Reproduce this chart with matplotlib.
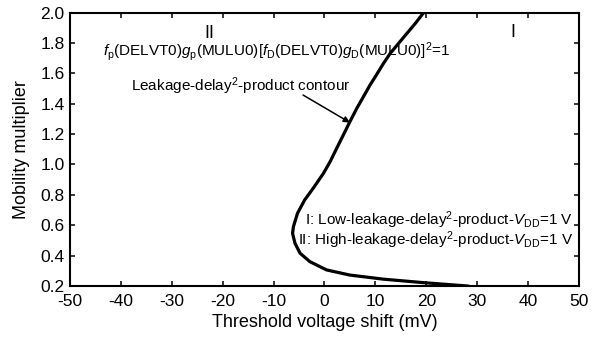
import numpy as np
import matplotlib.pyplot as plt

plt.rcParams['font.family'] = ['Liberation Sans', 'DejaVu Sans']
plt.rcParams['mathtext.fontset'] = 'custom'
plt.rcParams['mathtext.rm'] = 'Liberation Sans'
plt.rcParams['mathtext.it'] = 'Liberation Sans:italic'
plt.rcParams['axes.unicode_minus'] = False

# leakage-delay^2-product contour (top to bottom)
vt_shift = [19.5, 17.85, 16.2, 14.55, 12.9, 11.6, 10.3, 8.95, 7.65, 6.35,
            5.0, 3.7, 2.4, 1.1, -0.2, -2.0, -3.9, -5.3, -6.1, -6.27,
            -5.8, -4.8, -2.9, 0.4, 5.0, 11.6, 19.5, 28.1]
mobility = [2.0, 1.929, 1.863, 1.797, 1.731, 1.666, 1.595, 1.523, 1.446, 1.37,
            1.282, 1.194, 1.107, 1.018, 0.942, 0.854, 0.766, 0.679, 0.591,
            0.547, 0.482, 0.416, 0.361, 0.306, 0.272, 0.245, 0.222, 0.2]

xticks = np.arange(-50, 51, 10)
yticks = np.arange(0.2, 2.01, 0.2)

fig = plt.figure(figsize=(5.95, 3.38), dpi=100)
ax = fig.add_axes([0.1176, 0.1538, 0.8555, 0.809])

ax.plot(vt_shift, mobility, color='black', lw=2.3, solid_joinstyle='round')

ax.set_xlim(-50, 50)
ax.set_ylim(0.2, 2.0)
ax.set_xticks(xticks)
ax.set_yticks(yticks)
ax.set_yticklabels([f'{v:.1f}' for v in yticks])
ax.tick_params(which='both', direction='in', top=True, right=True,
               labelsize=12.5, width=1.1, length=3.8)
ax.tick_params(axis='x', pad=6)
ax.tick_params(axis='y', pad=4)
for s in ax.spines.values():
    s.set_linewidth(1.5)

ax.set_xlabel('Threshold voltage shift (mV)', fontsize=13, labelpad=3)
ax.set_ylabel('Mobility multiplier', fontsize=13, labelpad=7)

ax.text(-22.6, 1.835, 'II', fontsize=13, ha='center', va='baseline')
ax.text(37.0, 1.84, 'I', fontsize=13, ha='center', va='baseline')
ax.text(-43.6, 1.714,
        r'$f_{\mathrm{p}}$(DELVT0)$g_{\mathrm{p}}$(MULU0)[$f_{\mathrm{D}}$(DELVT0)$g_{\mathrm{D}}$(MULU0)]$^{2}$=1',
        fontsize=11, ha='left', va='baseline')
ax.text(-38.0, 1.484, r'Leakage-delay$^{2}$-product contour',
        fontsize=11, ha='left', va='baseline')
ax.annotate('', xy=(5.0, 1.276), xytext=(-4.2, 1.457),
            arrowprops=dict(arrowstyle='-|>', color='black', lw=1.1,
                            mutation_scale=9, shrinkA=0, shrinkB=0))
ax.text(48.8, 0.6, r'I: Low-leakage-delay$^{2}$-product-$V_{\mathrm{DD}}$=1 V',
        fontsize=11, ha='right', va='baseline')
ax.text(48.8, 0.47, r'II: High-leakage-delay$^{2}$-product-$V_{\mathrm{DD}}$=1 V',
        fontsize=11, ha='right', va='baseline')

fig.savefig('out.png', dpi=100)
